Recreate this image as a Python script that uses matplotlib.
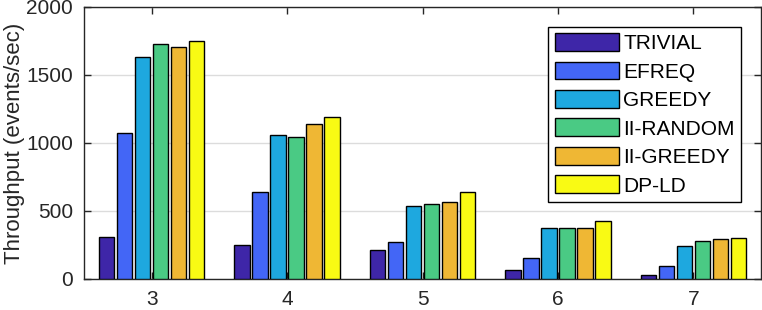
import matplotlib.pyplot as plt
import numpy as np

plt.rcParams['font.family'] = ['Liberation Sans', 'DejaVu Sans']

# data
groups = [3, 4, 5, 6, 7]
methods = ['TRIVIAL', 'EFREQ', 'GREEDY', 'II-RANDOM', 'II-GREEDY', 'DP-LD']
trivial = [307, 248, 211, 66, 27]
efreq = [1071, 637, 270, 154, 93]
greedy = [1630, 1056, 534, 373, 240]
ii_random = [1726, 1042, 551, 373, 277]
ii_greedy = [1708, 1137, 564, 373, 292]
dp_ld = [1752, 1189, 637, 426, 299]
series = [trivial, efreq, greedy, ii_random, ii_greedy, dp_ld]

colors = ['#3E26A8', '#4366F6', '#1EA8DF', '#4ACA84', '#EFB734', '#F9FA14']

fig = plt.figure(figsize=(7.62, 3.10), dpi=100)
ax = fig.add_axes([84/762, 1 - 279/310, (761 - 84)/762, (279 - 7)/310])

x = np.array(groups, dtype=float)
pitch = 0.133
width = 0.113
for i, (vals, c, name) in enumerate(zip(series, colors, methods)):
    off = (i - 2.5) * pitch
    ax.bar(x + off, vals, width, color=c, edgecolor='black', linewidth=1.0,
           label=name, zorder=3)

ax.set_xlim(2.5, 7.5)
ax.set_ylim(0, 2000)
ax.set_xticks(groups)
ax.set_yticks([0, 500, 1000, 1500, 2000])
ax.yaxis.grid(True, color='#dcdcdc', linewidth=1.0, zorder=0)
ax.set_axisbelow(True)

txt = '#262626'
ax.tick_params(direction='in', length=5, width=1, colors=txt, labelsize=15,
               top=True, right=True, pad=8)
for s in ax.spines.values():
    s.set_color(txt)
    s.set_linewidth(1.0)

ax.set_ylabel('Throughput (events/sec)', fontsize=16, color=txt, labelpad=1)

leg = ax.legend(loc='upper right', fontsize=15, frameon=True, fancybox=False,
                edgecolor='black', framealpha=1, handlelength=3.1,
                handleheight=0.95, handletextpad=0.2, labelspacing=0.4,
                borderpad=0.3, borderaxespad=0.95)
leg.get_frame().set_linewidth(1.0)

fig.savefig('out.png', dpi=100)
